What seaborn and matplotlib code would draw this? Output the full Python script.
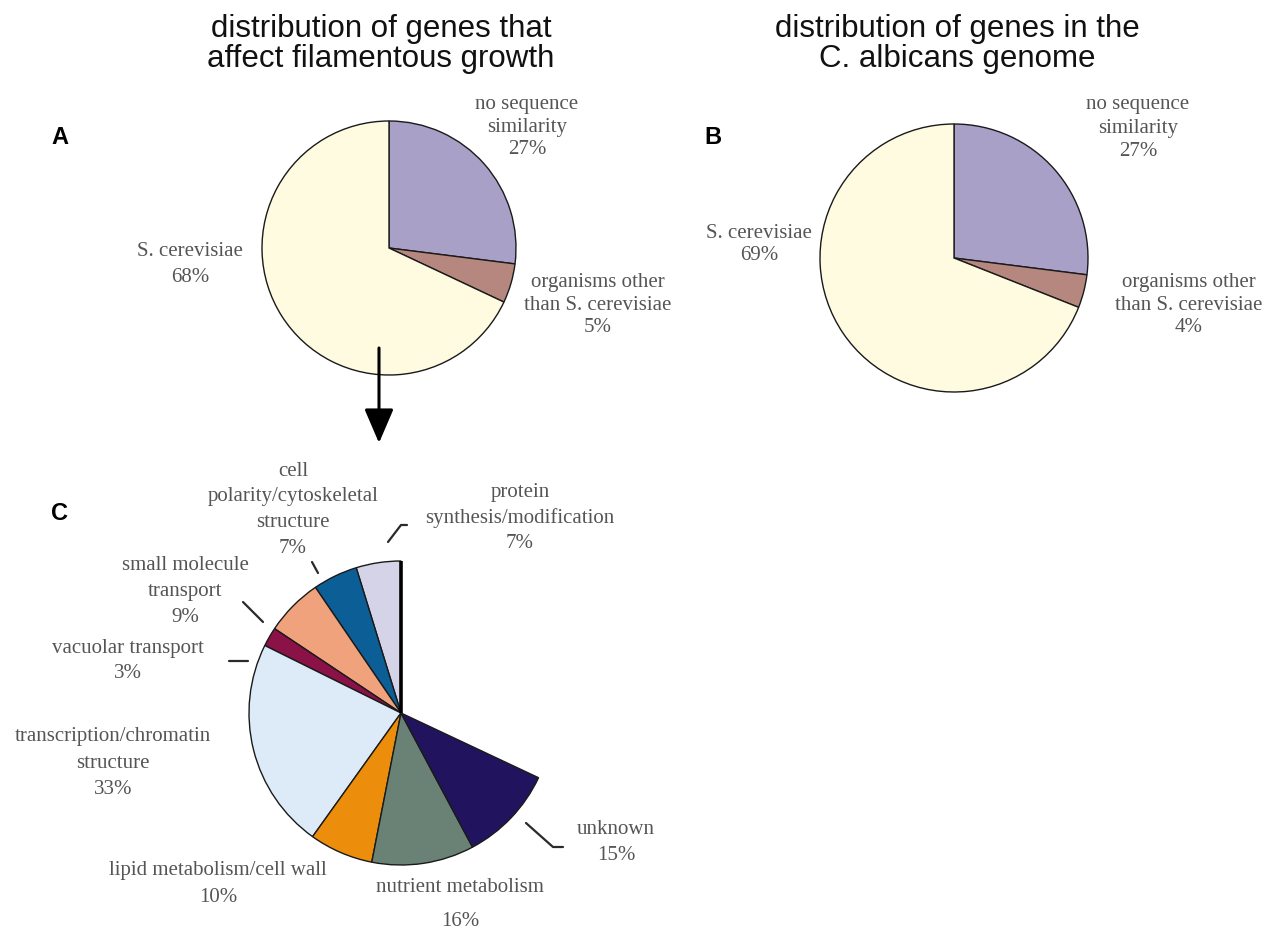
import numpy as np
import matplotlib
matplotlib.use("Agg")
import matplotlib.pyplot as plt
import seaborn as sns

# Sequence-similarity groups (panels A and B)
origin_groups = ["no sequence similarity", "organisms other than S. cerevisiae", "S. cerevisiae"]
filament_pct = [27, 5, 68]      # genes that affect filamentous growth
genome_pct = [27, 4, 69]        # all genes in the C. albicans genome
origin_colors = ["#a9a0c8", "#b5877f", "#fffbe1"]

# Functional classes of the S. cerevisiae-like filamentous growth genes (panel C)
func_classes = [
    "protein synthesis/modification",
    "cell polarity/cytoskeletal structure",
    "small molecule transport",
    "vacuolar transport",
    "transcription/chromatin structure",
    "lipid metabolism/cell wall",
    "nutrient metabolism",
    "unknown",
]
func_pct = [7, 7, 9, 3, 33, 10, 16, 15]
func_colors = ["#d5d3e7", "#0b5e96", "#f0a27c", "#8a1247",
               "#dcebf7", "#ec8e0c", "#6a8275", "#22135f"]

sns.set_theme(style="white")

W, H = 1266, 931
fig = plt.figure(figsize=(W / 100, H / 100), dpi=100)
ax = fig.add_axes([0, 0, 1, 1])


def py(y):
    """Convert a top-down pixel row into the axes' bottom-up y value."""
    return H - y


SERIF = "Liberation Serif"
SANS = "Liberation Sans"
LABEL_GRAY = "#555555"
wedge_kw = dict(edgecolor="#1a1a1a", linewidth=1.0)

# Panel A
A_CENTER, A_RADIUS = (389, py(248)), 127
ax.pie(filament_pct, colors=origin_colors, startangle=90, counterclock=False,
       center=A_CENTER, radius=A_RADIUS, wedgeprops=wedge_kw)

# Panel B
B_CENTER, B_RADIUS = (954, py(258)), 134
ax.pie(genome_pct, colors=origin_colors, startangle=90, counterclock=False,
       center=B_CENTER, radius=B_RADIUS, wedgeprops=wedge_kw)

# Panel C: the S. cerevisiae share of panel A broken down by function
share = filament_pct[origin_groups.index("S. cerevisiae")] / 100
C_CENTER, C_RADIUS = (401, py(713)), 152
ax.pie(np.array(func_pct) / 100 * share, normalize=False, colors=func_colors,
       startangle=90, counterclock=True, center=C_CENTER, radius=C_RADIUS,
       wedgeprops=wedge_kw)
# heavier stroke on the opening edge of the partial pie
ax.plot([C_CENTER[0], C_CENTER[0]], [C_CENTER[1], C_CENTER[1] + C_RADIUS],
        color="black", lw=2.6, solid_capstyle="butt")

ax.set_xlim(0, W)
ax.set_ylim(0, H)
ax.set_aspect("auto")
ax.axis("off")


def stacked(x, y0, lines, gap, **kw):
    for i, s in enumerate(lines):
        ax.text(x, py(y0 + i * gap), s, ha="center", va="center", **kw)


label_kw = dict(family=SERIF, fontsize=15, color=LABEL_GRAY)
title_kw = dict(family=SANS, fontsize=22.5, color="#111111")
panel_kw = dict(family=SANS, fontsize=17, fontweight="bold", color="black")

# Titles
stacked(381, 29, ["distribution of genes that", "affect filamentous growth"], 30, **title_kw)
stacked(957, 29, ["distribution of genes in the", "C. albicans genome"], 30, **title_kw)

# Panel letters
for letter, (x, y) in {"A": (60, 138), "B": (713, 138), "C": (60, 513)}.items():
    ax.text(x, py(y), letter, ha="center", va="center", **panel_kw)

# Panel A labels
stacked(527, 105, ["no sequence", "similarity", f"{filament_pct[0]}%"], 22.5, **label_kw)
stacked(598, 283, ["organisms other", "than S. cerevisiae", f"{filament_pct[1]}%"], 22.5, **label_kw)
stacked(190, 251, ["S. cerevisiae", f"{filament_pct[2]}%"], 26, **label_kw)

# Panel B labels
stacked(1138, 105, ["no sequence", "similarity", f"{genome_pct[0]}%"], 23, **label_kw)
stacked(1189, 283, ["organisms other", "than S. cerevisiae", f"{genome_pct[1]}%"], 22.5, **label_kw)
stacked(759, 233, ["S. cerevisiae", f"{genome_pct[2]}%"], 23, **label_kw)

# Panel C labels
c_labels = [
    (520, 492, ["protein", "synthesis/modification"], 26),
    (293, 471, ["cell", "polarity/cytoskeletal", "structure"], 25.7),
    (185, 565, ["small molecule", "transport"], 26.5),
    (128, 648, ["vacuolar transport"], 25),
    (113, 737, ["transcription/chromatin", "structure"], 26.5),
    (218, 870, ["lipid metabolism/cell wall"], 27),
    (460, 888, ["nutrient metabolism"], 34),
    (616, 830, ["unknown"], 25),
]
for (x, y0, lines, gap), pct in zip(c_labels, func_pct):
    stacked(x, y0, lines + [f"{pct}%"], gap, **label_kw)

# Leader lines from labels to slices
leaders = [
    [(388, 542), (401, 525), (407, 525)],
    [(312, 562), (318, 573)],
    [(243, 602), (263, 622)],
    [(229, 661), (248, 661)],
    [(526, 823), (553, 847), (563, 847)],
]
for pts in leaders:
    xs, ys = zip(*pts)
    ax.plot(xs, [py(v) for v in ys], color="#2a2a2a", lw=1.6)

# Arrow linking the S. cerevisiae slice of A to the breakdown in C
ax.annotate("", xy=(379, py(443)), xytext=(379, py(348)),
            arrowprops=dict(arrowstyle="-|>,head_length=1.05,head_width=0.45",
                            lw=2.2, color="black", mutation_scale=20,
                            shrinkA=0, shrinkB=0))

fig.savefig("out.png", dpi=100, facecolor="white")
